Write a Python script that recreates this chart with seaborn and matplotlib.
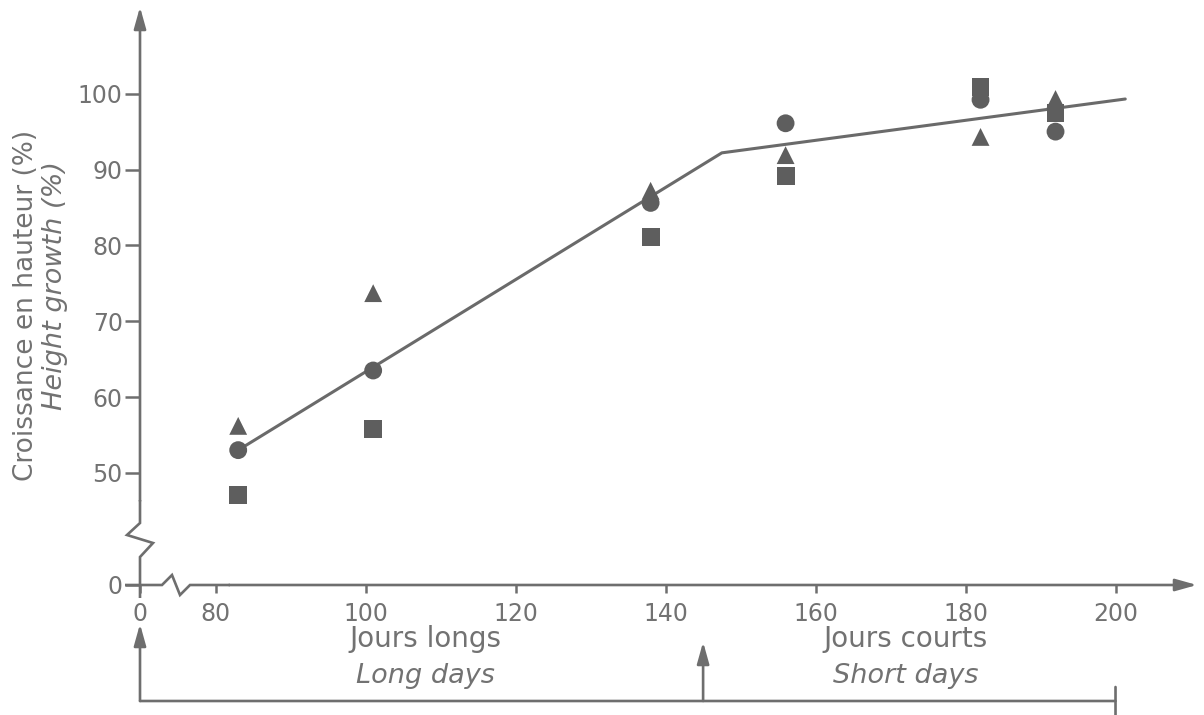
import numpy as np
import pandas as pd
import matplotlib
matplotlib.use("Agg")
import matplotlib.pyplot as plt
import seaborn as sns

# ---------------- data ----------------
days = [83, 101, 138, 156, 182, 192]
circle_vals = [53.0, 63.5, 85.6, 96.1, 99.2, 95.0]
triangle_vals = [56.2, 73.7, 87.2, 91.9, 94.3, 99.3]
square_vals = [47.1, 55.8, 81.1, 89.2, 100.9, 97.4]

fit_days = [83, 147.5, 201.3]
fit_vals = [53.0, 92.2, 99.3]

xticks = [0, 80, 100, 120, 140, 160, 180, 200]
yticks = [0, 50, 60, 70, 80, 90, 100]

period_labels = [("Jours longs", "Long days", 108.0), ("Jours courts", "Short days", 172.0)]
photoperiod_switch = 145.0
experiment_end = 200.0

df = pd.DataFrame({
    "day": days * 3,
    "growth": circle_vals + triangle_vals + square_vals,
    "series": ["circle"] * 6 + ["triangle"] * 6 + ["square"] * 6,
})

# ---------------- style ----------------
sns.set_theme(style="white")
plt.rcParams["font.family"] = ["DejaVu Sans"]

TXT = "#727272"
MK = "#5e5e5e"
LN = "#6a6a6a"
AX = "#6e6e6e"
W, H = 1204, 715

fig = plt.figure(figsize=(W / 100, H / 100), dpi=100)
fig.patch.set_facecolor("white")

# axes placed so data 0 sits on the drawn axis lines
ax_left, ax_right, ax_bottom, ax_top = 140, 1195, 585, 8
ax = fig.add_axes([ax_left / W, (H - ax_bottom) / H, (ax_right - ax_left) / W, (ax_bottom - ax_top) / H])
ax.set_facecolor("none")

# broken scales (compressed segment below the break)
XB, XK = 80.0, 0.1262
YB, YK = 43.0, 0.181


def fx(x):
    x = np.asarray(x, float)
    return np.where(x < XB, x * XK, XB * XK + (x - XB))


def fx_inv(u):
    u = np.asarray(u, float)
    b = XB * XK
    return np.where(u < b, u / XK, XB + (u - b))


def fy(y):
    y = np.asarray(y, float)
    return np.where(y < YB, y * YK, YB * YK + (y - YB))


def fy_inv(u):
    u = np.asarray(u, float)
    b = YB * YK
    return np.where(u < b, u / YK, YB + (u - b))


ax.set_xscale("function", functions=(fx, fx_inv))
ax.set_yscale("function", functions=(fy, fy_inv))

sns.lineplot(x=fit_days, y=fit_vals, color=LN, lw=2.2, ax=ax, zorder=2)
sns.scatterplot(data=df, x="day", y="growth", style="series",
                markers={"circle": "o", "triangle": "^", "square": "s"},
                color=MK, s=165, linewidth=0, legend=False, ax=ax, zorder=3)

ax.set_xlim(0, 210.6)
ax.set_ylim(0, 111.3)
ax.set_xticks(xticks)
ax.set_xticklabels([str(t) for t in xticks])
ax.set_yticks(yticks)
ax.set_yticklabels([str(t) for t in yticks])
ax.minorticks_off()
for s in ax.spines.values():
    s.set_visible(False)
ax.tick_params(axis="y", direction="out", length=10.5, width=1.8, color=AX, pad=2,
               labelsize=17, labelcolor=TXT, left=True)
ax.tick_params(axis="x", direction="out", length=6, width=1.8, color=AX, pad=6,
               labelsize=17, labelcolor=TXT, bottom=True)
ax.set_xlabel("")
ax.set_ylabel("")
ax.grid(False)

# ---------------- axis lines with breaks (overlay in pixel space) ----------------
ov = fig.add_axes([0, 0, 1, 1], zorder=5)
ov.set_xlim(0, W)
ov.set_ylim(H, 0)
ov.axis("off")
ov.patch.set_visible(False)

lw_ax = 1.9
# y axis: lower part with zigzag
ov.plot([140, 140, 153, 127, 140, 140], [598, 557, 543, 535, 523, 500], color=AX, lw=lw_ax,
        solid_joinstyle="miter", solid_capstyle="butt")
# x axis: left part with zigzag
ov.plot([125, 162, 172, 180, 190, 230], [585, 585, 575, 595, 585, 585], color=AX, lw=lw_ax,
        solid_joinstyle="miter", solid_capstyle="butt")

arrow_kw = dict(arrowstyle="-|>,head_length=1.0,head_width=0.28", color=AX, lw=lw_ax,
                mutation_scale=13, shrinkA=0, shrinkB=0)
ov.annotate("", xy=(140, 7), xytext=(140, 501), xycoords="data", arrowprops=arrow_kw)
ov.annotate("", xy=(1197, 585), xytext=(229, 585), xycoords="data", arrowprops=arrow_kw)

# ---------------- axis titles ----------------
fig.text(26 / W, (H - 305) / H, "Croissance en hauteur (%)", rotation=90, ha="center", va="center",
         fontsize=19, color=TXT)
fig.text(55 / W, (H - 285) / H, "Height growth (%)", rotation=90, ha="center", va="center",
         fontsize=19.5, color=TXT, style="italic")

# ---------------- photoperiod bracket under the axis ----------------
bc = ("data", "figure pixels")
ybr = H - 701
ax.annotate("", xy=(experiment_end, ybr), xytext=(0, ybr), xycoords=bc, textcoords=bc,
            arrowprops=dict(arrowstyle="-", color=AX, lw=lw_ax, shrinkA=0, shrinkB=0))
ax.annotate("", xy=(0, H - 624), xytext=(0, ybr), xycoords=bc, textcoords=bc, arrowprops=arrow_kw)
ax.annotate("", xy=(photoperiod_switch, H - 642), xytext=(photoperiod_switch, ybr), xycoords=bc,
            textcoords=bc, arrowprops=arrow_kw)
ax.annotate("", xy=(experiment_end, H - 687), xytext=(experiment_end, 0), xycoords=bc, textcoords=bc,
            arrowprops=dict(arrowstyle="-", color=AX, lw=lw_ax, shrinkA=0, shrinkB=0))
for fr, en, xc in period_labels:
    ax.annotate(fr, xy=(xc, H - 639), xycoords=bc, ha="center", va="center", fontsize=20, color=TXT)
    ax.annotate(en, xy=(xc, H - 676), xycoords=bc, ha="center", va="center", fontsize=19.5, color=TXT,
                style="italic")

fig.savefig("out.png", dpi=100, facecolor="white")
